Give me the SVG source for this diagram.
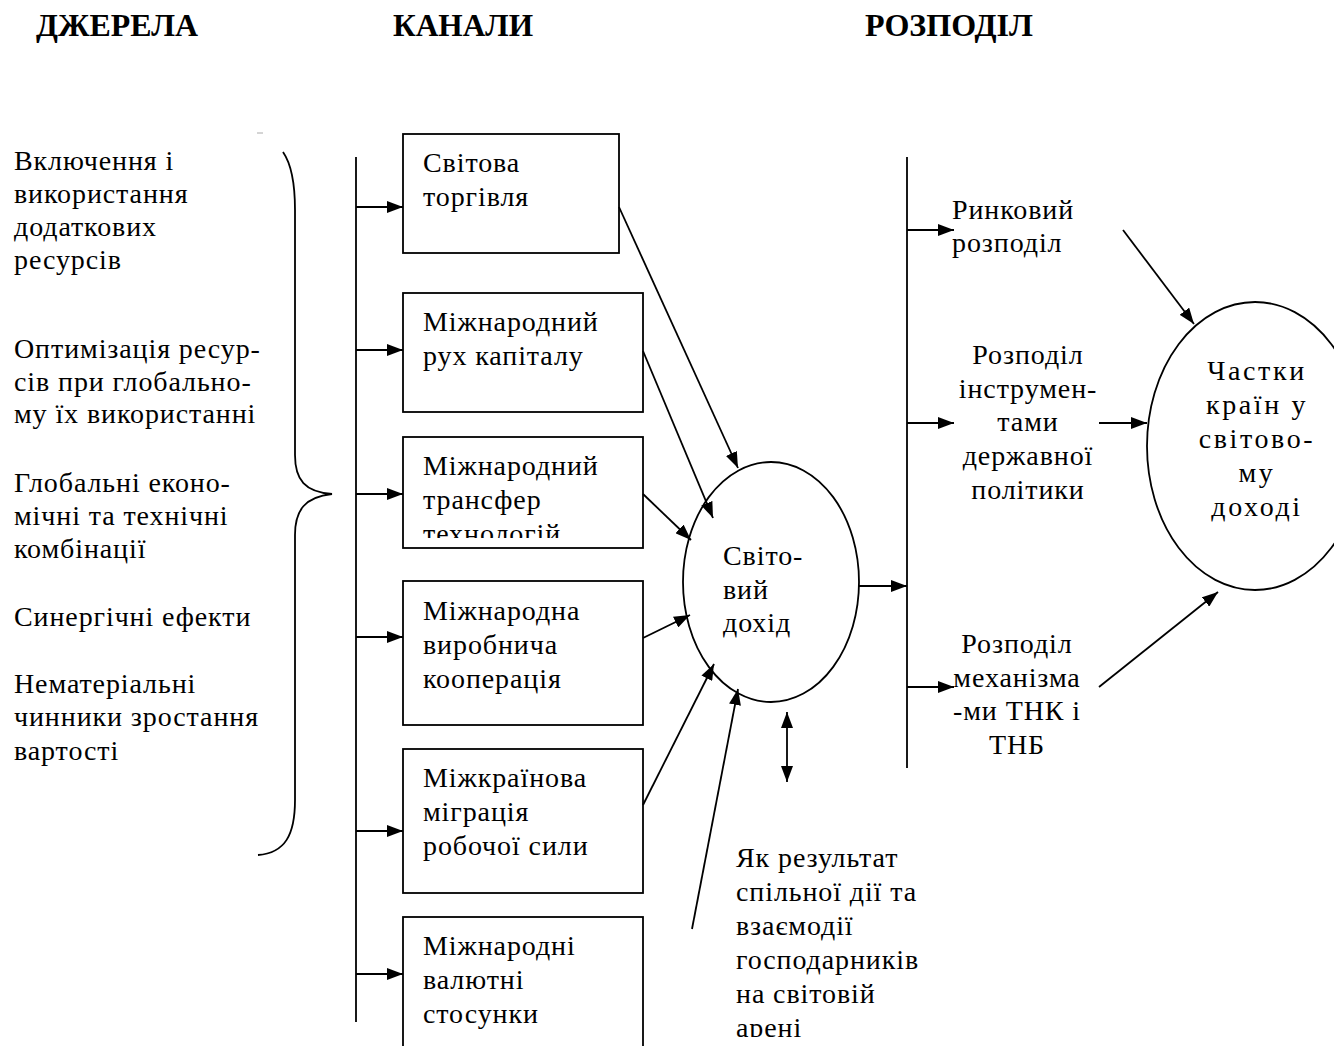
<svg xmlns="http://www.w3.org/2000/svg" width="1334" height="1046" viewBox="0 0 1334 1046">
<style>
.t{font-family:"Liberation Serif","Times New Roman",serif;font-size:28px;fill:#000;letter-spacing:0.9px}
.e{letter-spacing:2.6px}
.h{font-family:"Liberation Serif","Times New Roman",serif;font-size:31px;font-weight:bold;fill:#000}
.c{text-anchor:middle}
.box{fill:#fff;stroke:#000;stroke-width:1.8}
.ln{fill:none;stroke:#000;stroke-width:1.8}
.ar{fill:none;stroke:#000;stroke-width:1.8;marker-end:url(#ah)}
</style>
<defs>
<marker id="ah" markerUnits="userSpaceOnUse" viewBox="0 0 16 12" refX="16" refY="6" markerWidth="16" markerHeight="12" orient="auto">
<path d="M0,0 L16,6 L0,12 z" fill="#000"/>
</marker>
<marker id="as" markerUnits="userSpaceOnUse" viewBox="0 0 16 12" refX="0" refY="6" markerWidth="16" markerHeight="12" orient="auto">
<path d="M16,0 L0,6 L16,12 z" fill="#000"/>
</marker>
<clipPath id="cb3"><rect x="400" y="430" width="250" height="108"/></clipPath>
<clipPath id="cnote"><rect x="700" y="830" width="300" height="207"/></clipPath>
</defs>
<rect width="1334" height="1046" fill="#fff"/>

<g id="headers">
<text class="h" x="36" y="36" textLength="162" lengthAdjust="spacingAndGlyphs">ДЖЕРЕЛА</text>
<text class="h" x="393" y="36" textLength="140" lengthAdjust="spacingAndGlyphs">КАНАЛИ</text>
<text class="h" x="865" y="36" textLength="168" lengthAdjust="spacingAndGlyphs">РОЗПОДІЛ</text>
</g>

<g id="sources">
<text class="t" x="14" y="170">Включення і</text>
<text class="t" x="14" y="203">використання</text>
<text class="t" x="14" y="236">додаткових</text>
<text class="t" x="14" y="269">ресурсів</text>
<text class="t" x="14" y="358">Оптимізація ресур-</text>
<text class="t" x="14" y="391">сів при глобально-</text>
<text class="t" x="14" y="423">му їх використанні</text>
<text class="t" x="14" y="492">Глобальні еконо-</text>
<text class="t" x="14" y="525">мічні та технічні</text>
<text class="t" x="14" y="558">комбінації</text>
<text class="t" x="14" y="626">Синергічні ефекти</text>
<text class="t" x="14" y="693">Нематеріальні</text>
<text class="t" x="14" y="726">чинники зростання</text>
<text class="t" x="14" y="760">вартості</text>
</g>

<g id="brace">
<path class="ln" d="M283,152 C292,165 295,185 295,210 L295,455 C295,480 305,492 332,494 C305,497 295,510 295,535 L295,800 C295,835 285,853 258,855"/>
<line x1="257" y1="133" x2="263" y2="133" stroke="#aaa" stroke-width="1"/>
</g>

<g id="box1"><rect class="box" x="403" y="134" width="216" height="119"/>
<text class="t" x="423" y="172">Світова</text><text class="t" x="423" y="206">торгівля</text></g>
<g id="box2"><rect class="box" x="403" y="293" width="240" height="119"/>
<text class="t" x="423" y="331">Міжнародний</text><text class="t" x="423" y="365">рух капіталу</text></g>
<g id="box3"><rect class="box" x="403" y="437" width="240" height="111"/>
<g clip-path="url(#cb3)"><text class="t" x="423" y="475">Міжнародний</text><text class="t" x="423" y="509">трансфер</text><text class="t" x="423" y="543">технологій</text></g></g>
<g id="box4"><rect class="box" x="403" y="581" width="240" height="144"/>
<text class="t" x="423" y="620">Міжнародна</text><text class="t" x="423" y="654">виробнича</text><text class="t" x="423" y="688">кооперація</text></g>
<g id="box5"><rect class="box" x="403" y="749" width="240" height="144"/>
<text class="t" x="423" y="787">Міжкраїнова</text><text class="t" x="423" y="821">міграція</text><text class="t" x="423" y="855">робочої сили</text></g>
<g id="box6"><rect class="box" x="403" y="917" width="240" height="140"/>
<text class="t" x="423" y="955">Міжнародні</text><text class="t" x="423" y="989">валютні</text><text class="t" x="423" y="1023">стосунки</text></g>

<g id="income"><ellipse class="ln" cx="771" cy="582" rx="88" ry="120"/>
<text class="t" x="723" y="565">Світо-</text><text class="t" x="723" y="599">вий</text><text class="t" x="723" y="632">дохід</text></g>

<g id="shares"><ellipse class="ln" cx="1255" cy="446" rx="108" ry="144"/>
<text class="t c e" x="1257" y="380">Частки</text><text class="t c e" x="1257" y="414">країн у</text><text class="t c e" x="1257" y="448">світово-</text><text class="t c e" x="1257" y="482">му</text><text class="t c e" x="1257" y="516">доході</text></g>

<g id="market"><text class="t" x="952" y="219">Ринковий</text><text class="t" x="952" y="252">розподіл</text></g>
<g id="state"><text class="t c" x="1028" y="364">Розподіл</text><text class="t c" x="1028" y="398">інструмен-</text><text class="t c" x="1028" y="431">тами</text><text class="t c" x="1028" y="465">державної</text><text class="t c" x="1028" y="499">політики</text></g>
<g id="tnc"><text class="t c" x="1017" y="653">Розподіл</text><text class="t c" x="1017" y="687">механізма</text><text class="t c" x="1017" y="720">-ми ТНК і</text><text class="t c" x="1017" y="754">ТНБ</text></g>

<g id="note" clip-path="url(#cnote)">
<text class="t" x="736" y="867">Як результат</text><text class="t" x="736" y="901">спільної дії та</text><text class="t" x="736" y="935">взаємодії</text><text class="t" x="736" y="969">господарників</text><text class="t" x="736" y="1003">на світовій</text><text class="t" x="736" y="1037">арені</text>
</g>

<g id="connectors">
<line class="ln" x1="356" y1="157" x2="356" y2="1022"/>
<line class="ar" x1="356" y1="207" x2="403" y2="207"/>
<line class="ar" x1="356" y1="350" x2="403" y2="350"/>
<line class="ar" x1="356" y1="494" x2="403" y2="494"/>
<line class="ar" x1="356" y1="637" x2="403" y2="637"/>
<line class="ar" x1="356" y1="831" x2="403" y2="831"/>
<line class="ar" x1="356" y1="974" x2="403" y2="974"/>
<line class="ar" x1="619" y1="207" x2="738" y2="468"/>
<line class="ar" x1="643" y1="351" x2="713" y2="518"/>
<line class="ar" x1="643" y1="494" x2="691" y2="540"/>
<line class="ar" x1="643" y1="638" x2="690" y2="615"/>
<line class="ar" x1="643" y1="805" x2="714" y2="664"/>
<line class="ar" x1="692" y1="929" x2="738" y2="689"/>
<line class="ln" x1="787" y1="712" x2="787" y2="782" marker-start="url(#as)" marker-end="url(#ah)"/>
<line class="ar" x1="859" y1="586" x2="907" y2="586"/>
<line class="ln" x1="907" y1="157" x2="907" y2="768"/>
<line class="ar" x1="907" y1="230" x2="954" y2="230"/>
<line class="ar" x1="907" y1="423" x2="954" y2="423"/>
<line class="ar" x1="907" y1="687" x2="954" y2="687"/>
<line class="ar" x1="1123" y1="230" x2="1194" y2="324"/>
<line class="ar" x1="1099" y1="423" x2="1147" y2="423"/>
<line class="ar" x1="1099" y1="687" x2="1218" y2="592"/>
</g>
</svg>
